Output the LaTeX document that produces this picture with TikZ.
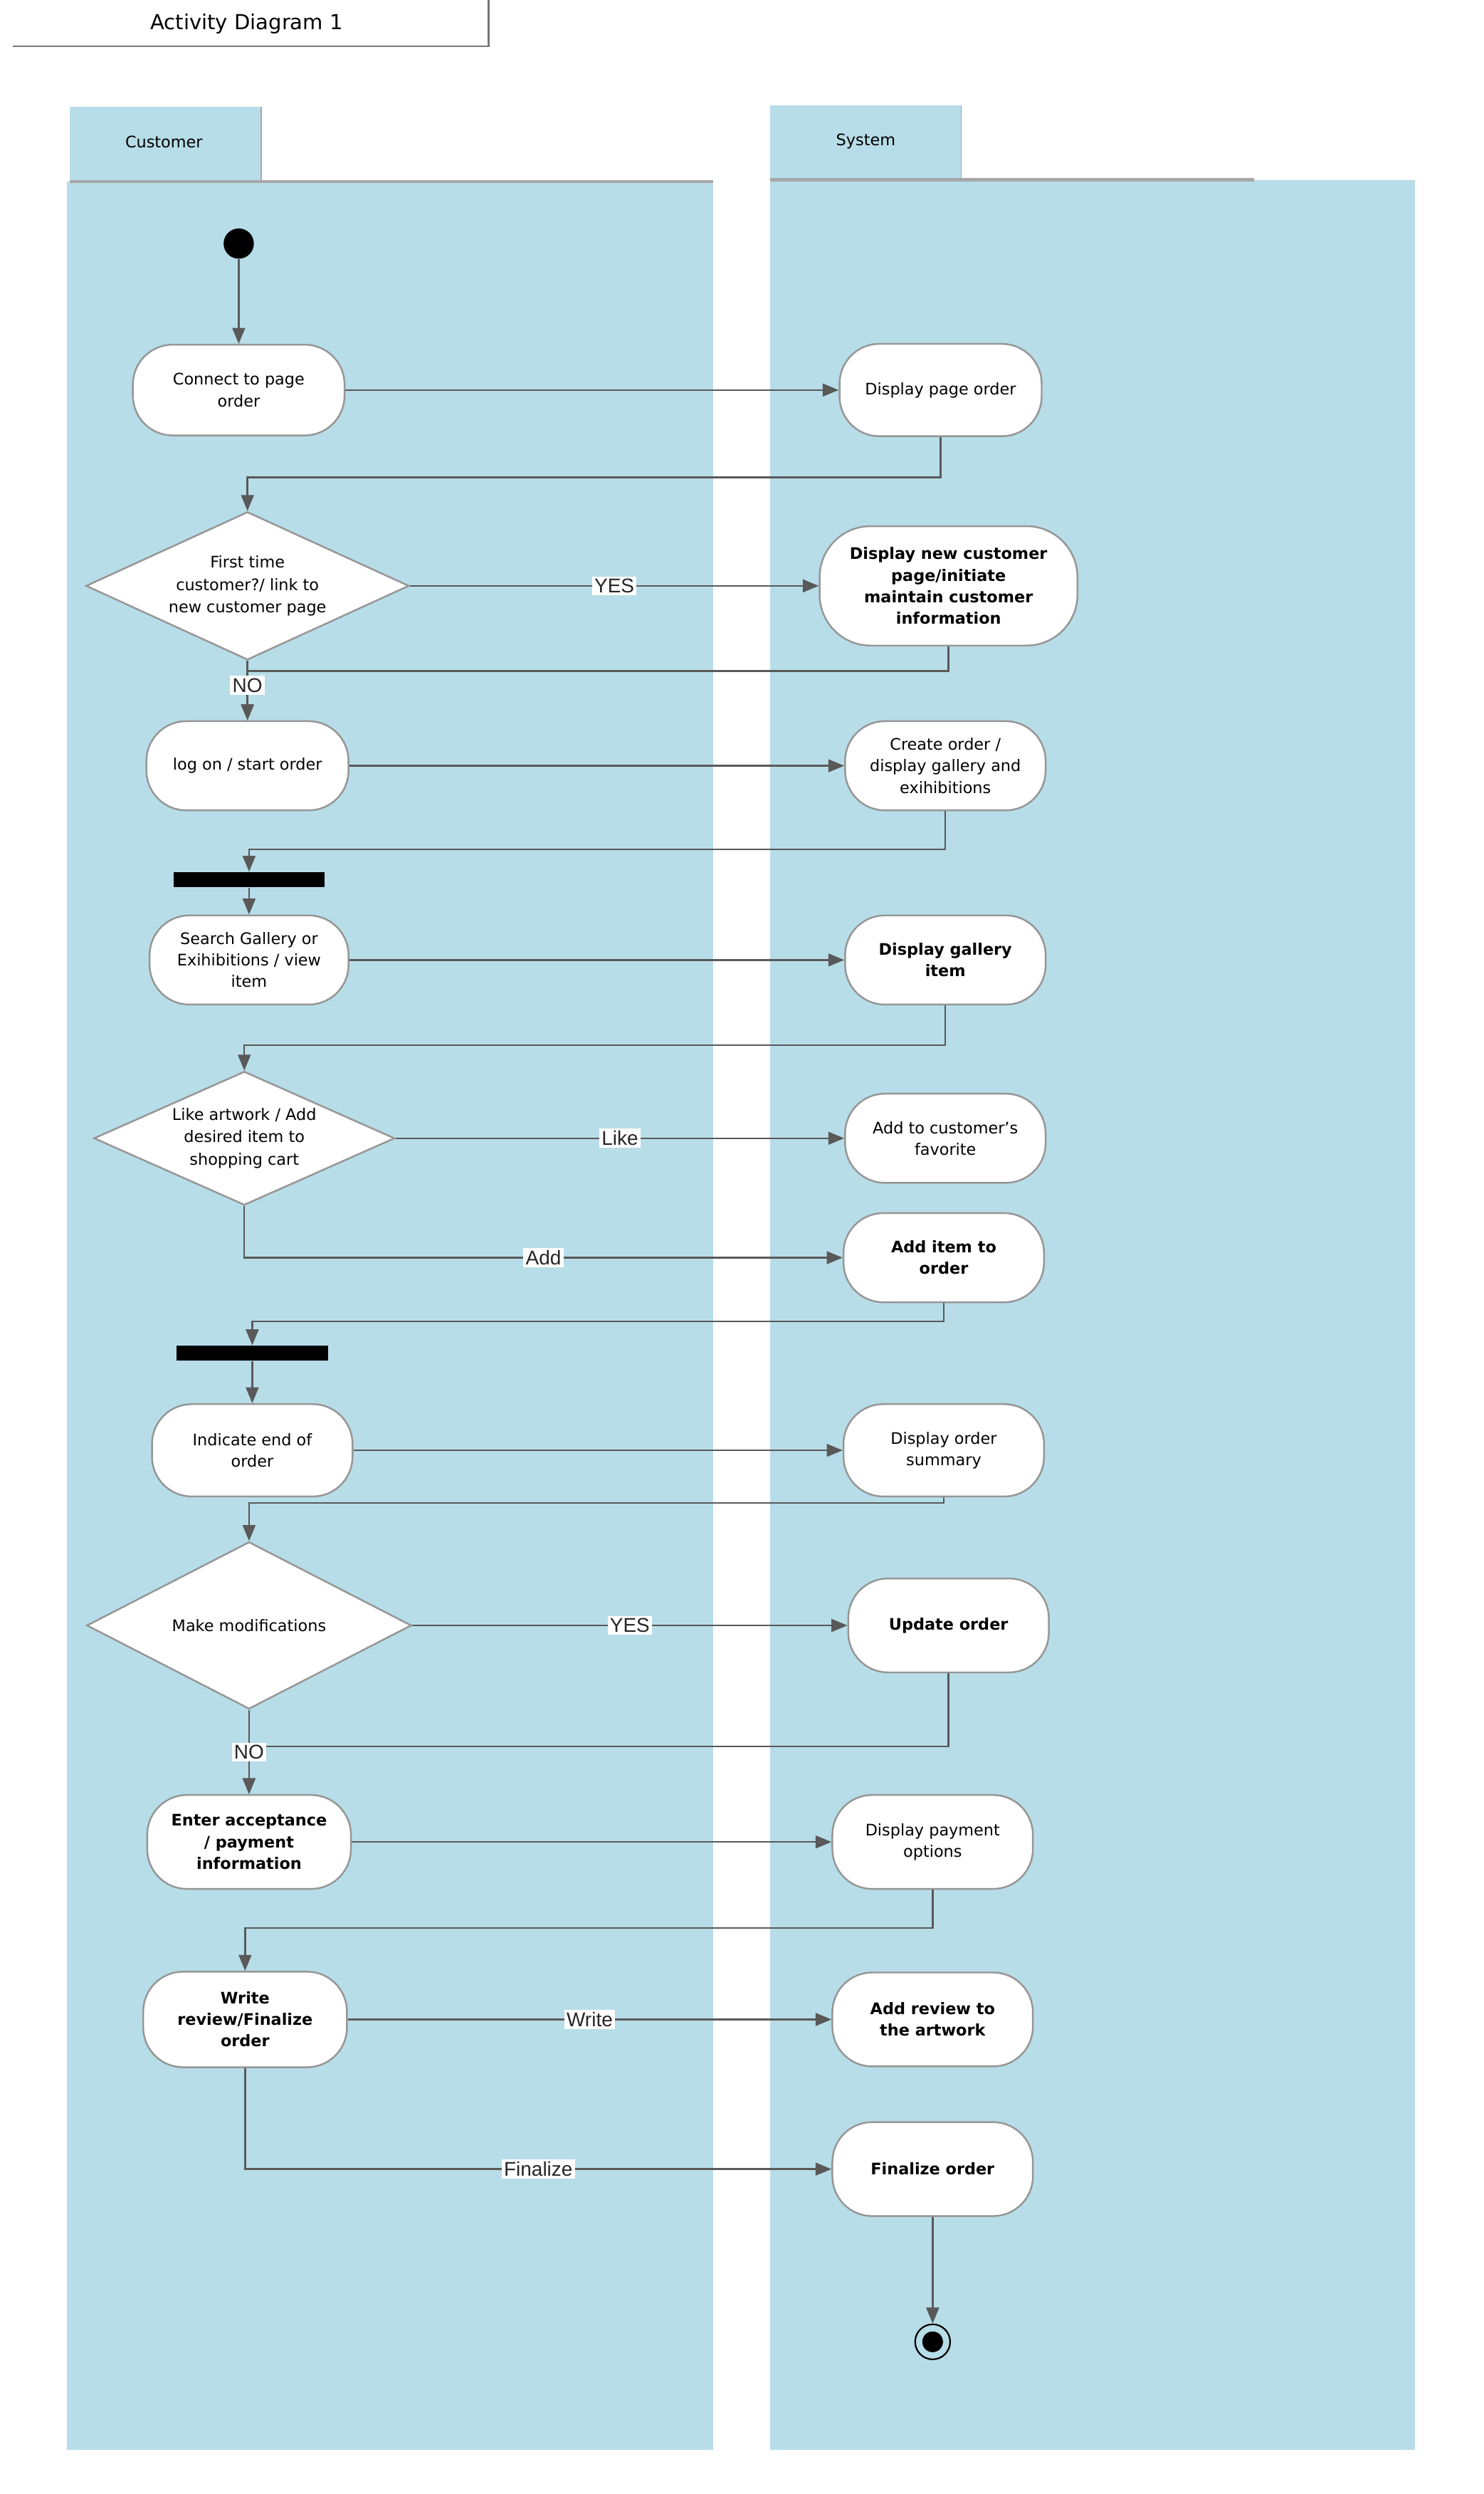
\documentclass[tikz,border=0pt]{standalone}
\usepackage{fontspec}
\setmainfont{DejaVu Sans}
\newfontfamily\lblfamily{Liberation Sans}
\usetikzlibrary{shapes.geometric,arrows.meta}
\definecolor{lanecol}{RGB}{183,221,232}
\definecolor{nodegray}{RGB}{150,150,150}
\definecolor{arrgray}{RGB}{89,89,89}
\definecolor{hdrgray}{RGB}{166,166,166}
\definecolor{titlegray}{RGB}{120,120,120}
\tikzset{
  act/.style={draw=nodegray, line width=1.1pt, fill=white, rounded corners=25pt,
    align=center, inner sep=2pt, font=\fontsize{10}{13.5}\selectfont},
  actb/.style={act, font=\fontsize{10}{13.5}\selectfont\bfseries},
  diam/.style={diamond, draw=nodegray, line width=1.1pt, fill=white, inner sep=0pt},
  dtext/.style={align=center, font=\fontsize{10}{14}\selectfont},
  forkbar/.style={fill=black, inner sep=0pt, minimum width=95pt, minimum height=9.5pt},
  flow/.style={draw=arrgray, line width=1.1pt, -{Triangle[length=10pt,width=8pt]}},
  lbl/.style={fill=white, inner sep=1.5pt, font=\lblfamily\fontsize{12.5}{13}\selectfont, text=black!85},
  lanelbl/.style={font=\fontsize{10}{12}\selectfont},
}
\begin{document}
\begin{tikzpicture}[x=1pt,y=-1pt]
\useasboundingbox (0,0) rectangle (932,1566.6);
\fill[white] (0,0) rectangle (932,1566.6);

% title frame
\node[font=\fontsize{13}{15}\selectfont] (title) at (155,15) {Activity Diagram 1};
\draw[titlegray, line width=1.2pt] (8,29) -- (307,29) -- (307,0);

% swimlanes
\fill[lanecol] (42,114) rectangle (448,1539);
\fill[lanecol] (44,67) rectangle (164,114);
\draw[hdrgray, line width=0.8pt] (164,67) -- (164,114);
\draw[hdrgray, line width=2pt] (44,114) -- (448,114);
\node[lanelbl] (custlbl) at (103,89) {Customer};

\fill[lanecol] (484,113) rectangle (889,1539);
\fill[lanecol] (484,66) rectangle (604,113);
\draw[hdrgray, line width=0.8pt] (604,66) -- (604,113);
\draw[hdrgray, line width=2pt] (484,113) -- (788,113);
\node[lanelbl] (syslbl) at (544,89) {System};

% nodes
\node[circle, fill=black, minimum size=19pt, inner sep=0pt] (start) at (150,153) {};
\node[act, minimum width=133pt, minimum height=57pt] (n1) at (150,245) {Connect to page\\order};
\node[act, minimum width=127pt, minimum height=58pt] (n2) at (591,245) {Display page order};

\node[diam, minimum width=203pt, minimum height=93pt] (d1) at (155.5,368) {};
\node[dtext] (d1t) at (d1.center) {First time\\customer?/ link to\\new customer page};
\node[actb, minimum width=162pt, minimum height=75pt, rounded corners=32pt] (n4) at (596,368) {Display new customer\\page/initiate\\maintain customer\\information};

\node[act, minimum width=127pt, minimum height=56pt] (n5) at (155.5,481) {log on / start order};
\node[act, minimum width=126pt, minimum height=56pt] (n6) at (594,481) {Create order /\\display gallery and\\exihibitions};

\node[forkbar] (f1) at (156.5,552.5) {};
\node[act, minimum width=125pt, minimum height=56pt] (n8) at (156.5,603) {Search Gallery or\\Exihibitions / view\\item};
\node[actb, minimum width=126pt, minimum height=56pt] (n9) at (594,603) {Display gallery\\item};

\node[diam, minimum width=189pt, minimum height=84pt] (d2) at (153.5,715) {};
\node[dtext] (d2t) at (d2.center) {Like artwork / Add\\desired item to\\shopping cart};
\node[act, minimum width=126pt, minimum height=56pt] (n11) at (594,715) {Add to customer's\\favorite};
\node[actb, minimum width=126pt, minimum height=56pt] (n12) at (593,790) {Add item to\\order};

\node[forkbar] (f2) at (158.5,850) {};
\node[act, minimum width=126pt, minimum height=58pt] (n14) at (158.5,911) {Indicate end of\\order};
\node[act, minimum width=126pt, minimum height=58pt] (n15) at (593,911) {Display order\\summary};

\node[diam, minimum width=204pt, minimum height=105pt] (d3) at (156.5,1021) {};
\node[dtext] (d3t) at (d3.center) {Make modifications};
\node[actb, minimum width=126pt, minimum height=59pt] (n17) at (596,1021) {Update order};

\node[actb, minimum width=128pt, minimum height=59pt] (n18) at (156.5,1157) {Enter acceptance\\/ payment\\information};
\node[act, minimum width=126pt, minimum height=59pt] (n19) at (586,1157) {Display payment\\options};

\node[actb, minimum width=128pt, minimum height=60pt] (n20) at (154,1268.5) {Write\\review/Finalize\\order};
\node[actb, minimum width=126pt, minimum height=59pt] (n21) at (586,1268.5) {Add review to\\the artwork};
\node[actb, minimum width=126pt, minimum height=59pt] (n22) at (586,1362.5) {Finalize order};

\node[circle, draw=black, line width=1pt, fill=lanecol, minimum size=22pt, inner sep=0pt] (end) at (586,1471) {};
\fill[black] (end.center) circle (6.5);

% connectors
\draw[flow] (start) -- (n1);
\draw[flow] (n1) -- (n2);
\draw[flow] (n2.south) |- ([yshift=21pt]d1.north) -- (d1.north);
\draw[flow] (d1.east) -- node[lbl, pos=0.5]{YES} (n4.west);
\draw[flow] (n4.south) |- ([yshift=31pt]n5.north) -- (n5.north);
\draw[flow] (d1.south) -- node[lbl, pos=0.41]{NO} (n5.north);
\draw[flow] (n5) -- (n6);
\draw[flow] (n6.south) |- ([yshift=14pt]f1.north) -- (f1.north);
\draw[flow] (f1) -- (n8);
\draw[flow] (n8) -- (n9);
\draw[flow] (n9.south) |- ([yshift=16pt]d2.north) -- (d2.north);
\draw[flow] (d2.east) -- node[lbl, pos=0.5]{Like} (n11.west);
\draw[flow] (d2.south) |- node[lbl, pos=0.75]{Add} (n12.west);
\draw[flow] (n12.south) |- ([yshift=15pt]f2.north) -- (f2.north);
\draw[flow] (f2) -- (n14);
\draw[flow] (n14) -- (n15);
\draw[flow] (n15.south) |- ([yshift=24pt]d3.north) -- (d3.north);
\draw[flow] (d3.east) -- node[lbl, pos=0.5]{YES} (n17.west);
\draw[flow] (n17.south) |- ([yshift=30pt]n18.north) -- (n18.north);
\draw[flow] (d3.south) -- node[lbl, pos=0.5]{NO} (n18.north);
\draw[flow] (n18) -- (n19);
\draw[flow] (n19.south) |- ([yshift=27pt]n20.north) -- (n20.north);
\draw[flow] (n20.east) -- node[lbl, pos=0.5]{Write} (n21.west);
\draw[flow] (n20.south) |- node[lbl, pos=0.75]{Finalize} (n22.west);
\draw[flow] (n22) -- (end);
\end{tikzpicture}
\end{document}
